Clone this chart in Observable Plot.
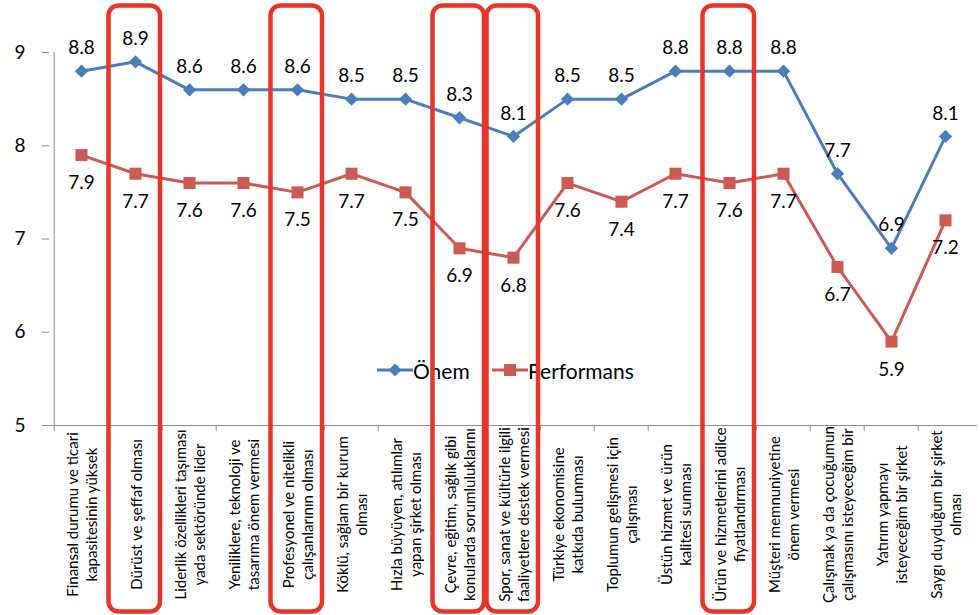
<!DOCTYPE html>
<html>
<head>
<meta charset="utf-8">
<script src="https://cdn.jsdelivr.net/npm/d3@7"></script>
<script src="https://cdn.jsdelivr.net/npm/@observablehq/plot@0.6"></script>
<style>
  html, body { margin: 0; padding: 0; background: white; }
  #wrap { position: relative; width: 980px; height: 615px; font-family: Lato, "Open Sans", sans-serif; }
  #legend { position: absolute; left: 0; top: 0; width: 980px; height: 615px; z-index: 0; }
  .item { position: absolute; top: 357px; height: 26px; display: flex; align-items: center; font-size: 21px; color: #000; }
  .item svg { display: block; }
  #chart { position: relative; z-index: 1; }
  #chart svg { background: transparent; }
</style>
</head>
<body>
<div id="wrap">
  <div id="legend"></div>
  <div id="chart"></div>
</div>
<script>
const categories = [
  "Finansal durumu ve ticari\nkapasitesinin yüksek",
  "Dürüst ve şeffaf olması",
  "Liderlik özellikleri taşıması\nyada sektöründe lider",
  "Yeniliklere, teknoloji ve\ntasarıma önem vermesi",
  "Profesyonel ve nitelikli\nçalışanlarının olması",
  "Köklü, sağlam bir kurum\nolması",
  "Hızla büyüyen, atılımlar\nyapan şirket olması",
  "Çevre, eğitim, sağlık gibi\nkonularda sorumluluklarını",
  "Spor, sanat ve kültürle ilgili\nfaaliyetlere destek vermesi",
  "Türkiye ekonomisine\nkatkıda bulunması",
  "Toplumun gelişmesi için\nçalışması",
  "Üstün hizmet ve ürün\nkalitesi sunması",
  "Ürün ve hizmetlerini adilce\nfiyatlandırması",
  "Müşteri memnuniyetine\nönem vermesi",
  "Çalışmak ya da çocuğumun\nçalışmasını isteyeceğim bir",
  "Yatırım yapmayı\nisteyeceğim bir şirket",
  "Saygı duyduğum bir şirket\nolması"
];
const onem       = [8.8, 8.9, 8.6, 8.6, 8.6, 8.5, 8.5, 8.3, 8.1, 8.5, 8.5, 8.8, 8.8, 8.8, 7.7, 6.9, 8.1];
const performans = [7.9, 7.7, 7.6, 7.6, 7.5, 7.7, 7.5, 6.9, 6.8, 7.6, 7.4, 7.7, 7.6, 7.7, 6.7, 5.9, 7.2];
const highlightedIdx = [1, 4, 7, 8, 12];
const yTicks = [5, 6, 7, 8, 9];
const seriesNames = ["Önem", "Performans"];

const blue = "#4a7ebb";
const red = "#cd5b55";
const boxRed = "#e8352b";
const axisGray = "#8c8c8c";

const rowsOnem = categories.map((c, i) => ({category: c, value: onem[i]}));
const rowsPerf = categories.map((c, i) => ({category: c, value: performans[i]}));
const highlighted = highlightedIdx.map(i => categories[i]);

const width = 980, height = 615;
const marginLeft = 49, marginRight = 3, marginTop = 52, marginBottom = 190;
const bw = (width - marginLeft - marginRight) / categories.length;

const chart = Plot.plot({
  width, height, marginLeft, marginRight, marginTop, marginBottom,
  style: {fontFamily: "Lato, 'Open Sans', sans-serif", background: "transparent", overflow: "visible"},
  x: {type: "band", domain: categories, padding: 0, axis: null},
  y: {domain: [5, 9], axis: null},
  marks: [
    Plot.ruleY([5], {stroke: axisGray}),
    Plot.ruleX([categories[0]], {dx: -bw / 2, stroke: axisGray}),
    Plot.ruleX(categories, {dx: -bw / 2, y1: 5, y2: 5, insetBottom: -6, stroke: axisGray}),
    Plot.axisY(yTicks, {tickSize: 7, tickPadding: 17, fontSize: 19, stroke: axisGray, fill: "black", label: null, tickFormat: d3.format("d")}),
    Plot.line(rowsOnem, {x: "category", y: "value", stroke: blue, strokeWidth: 3}),
    Plot.line(rowsPerf, {x: "category", y: "value", stroke: red, strokeWidth: 3}),
    Plot.dot(rowsOnem, {x: "category", y: "value", symbol: "diamond2", r: 6, fill: blue, stroke: "none"}),
    Plot.dot(rowsPerf, {x: "category", y: "value", symbol: "square", r: 6.8, fill: red, stroke: "none"}),
    Plot.text(rowsOnem, {x: "category", y: "value", text: d => d.value.toFixed(1), dy: -23, fontSize: 19, fill: "black"}),
    Plot.text(rowsPerf, {x: "category", y: "value", text: d => d.value.toFixed(1), dy: 28, fontSize: 19, fill: "black"}),
    Plot.text(categories, {x: d => d, frameAnchor: "bottom", rotate: -90, textAnchor: "middle", lineAnchor: "middle", dy: 89, fontSize: 15, lineHeight: 1.3, fill: "black"}),
    Plot.barY(highlighted, {x: d => d, y1: 3, y2: 9.5, fill: "none", stroke: boxRed, strokeWidth: 4.5, rx: 10, insetLeft: 0.5, insetRight: 2})
  ]
});
document.getElementById("chart").appendChild(chart);

// Legend (inside the plot area, behind the annotation boxes)
const legend = document.getElementById("legend");
const legendItems = [
  {name: seriesNames[0], color: blue, shape: "diamond", left: 377},
  {name: seriesNames[1], color: red, shape: "square", left: 492}
];
for (const it of legendItems) {
  const div = document.createElement("div");
  div.className = "item";
  div.style.left = it.left + "px";
  const marker = it.shape === "diamond"
    ? `<path d="M18,6.5L24.5,13L18,19.5L11.5,13Z" fill="${it.color}"/>`
    : `<rect x="12" y="7" width="12" height="12" fill="${it.color}"/>`;
  div.innerHTML = `<svg width="36" height="26"><line x1="0" x2="36" y1="13" y2="13" stroke="${it.color}" stroke-width="3"/>${marker}</svg><span>${it.name}</span>`;
  legend.appendChild(div);
}
</script>
</body>
</html>
